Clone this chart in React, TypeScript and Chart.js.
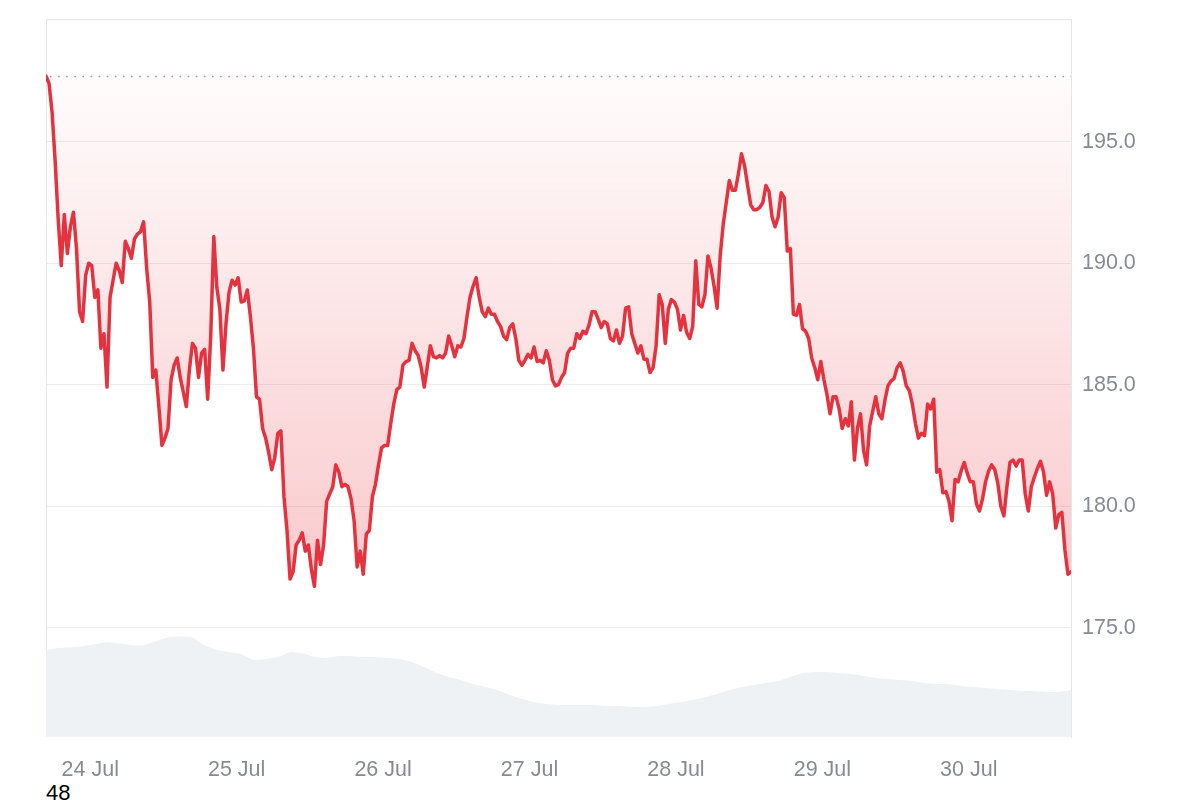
import React, { useEffect, useRef } from "react";
import { Chart, registerables } from "chart.js";

Chart.register(...registerables);

// Price, one value every 30 minutes, starting 23 Jul ~16:45
const PRICE_STEP_HOURS = 0.5;
const priceValues: number[] = [
  197.7, 197.4, 196.2, 194.2, 191.8, 189.9, 192.0, 190.4, 191.5, 192.1,
  190.6, 188.0, 187.6, 189.5, 190.0, 189.9, 188.6, 188.9, 186.5, 187.1,
  184.9, 188.6, 189.3, 190.0, 189.7, 189.2, 190.9, 190.6, 190.2, 191.0,
  191.2, 191.3, 191.7, 189.8, 188.4, 185.3, 185.6, 184.1, 182.5, 182.8,
  183.2, 185.2, 185.8, 186.1, 185.3, 184.7, 184.1, 185.6, 186.7, 186.5,
  185.3, 186.3, 186.45, 184.4, 187.0, 191.1, 189.0, 188.1, 185.6, 187.5,
  188.8, 189.3, 189.1, 189.4, 188.4, 188.45, 188.9, 187.8, 186.5, 184.5,
  184.4, 183.2, 182.8, 182.2, 181.5, 182.0, 183.0, 183.1, 180.4, 179.0,
  177.0, 177.3, 178.4, 178.6, 178.9, 178.15, 178.4, 177.4, 176.7, 178.6,
  177.6, 178.4, 180.2, 180.5, 180.8, 181.7, 181.4, 180.8, 180.9, 180.8,
  180.3, 179.4, 177.5, 178.15, 177.2, 178.85, 179.0, 180.4, 180.9, 181.7,
  182.4, 182.5, 182.5, 183.4, 184.2, 184.8, 184.9, 185.8, 185.95, 186.0,
  186.7, 186.4, 186.2, 185.7, 184.9, 185.75, 186.6, 186.15, 186.1, 186.2,
  186.1, 186.3, 187.0, 186.6, 186.15, 186.6, 186.55, 186.9, 187.8, 188.6,
  189.05, 189.4, 188.6, 188.0, 187.8, 188.15, 187.9, 187.9, 187.6, 187.4,
  187.0, 186.85, 187.35, 187.5, 186.9, 186.0, 185.8, 186.0, 186.25, 186.1,
  186.55, 185.95, 186.0, 185.9, 186.4, 186.0, 185.2, 184.95, 185.0, 185.3,
  185.5, 186.3, 186.5, 186.5, 187.1, 186.9, 187.2, 187.1, 187.45, 188.0,
  188.0, 187.7, 187.35, 187.6, 187.5, 186.9, 186.8, 187.25, 186.7, 187.0,
  188.15, 188.2, 187.1, 186.7, 186.3, 186.6, 186.05, 186.05, 185.5, 185.7,
  186.6, 188.7, 188.3, 186.7, 188.1, 188.5, 188.4, 188.1, 187.25, 187.85,
  187.15, 186.9, 187.4, 190.1, 188.3, 188.2, 188.7, 190.3, 189.8, 189.05,
  188.15, 190.3, 191.6, 192.5, 193.4, 193.0, 193.0, 193.7, 194.5, 194.0,
  193.2, 192.4, 192.2, 192.2, 192.3, 192.5, 193.2, 192.95, 191.9, 191.5,
  191.9, 192.9, 192.7, 190.5, 190.6, 187.9, 187.85, 188.3, 187.3, 187.2,
  186.9, 186.1, 185.7, 185.2, 185.95, 185.2, 184.6, 183.8, 184.5, 184.5,
  184.0, 183.2, 183.6, 183.3, 184.3, 181.9, 183.2, 183.8, 182.3, 181.7,
  183.3, 183.9, 184.5, 183.8, 183.6, 184.35, 184.95, 185.15, 185.25, 185.7,
  185.9, 185.55, 184.95, 184.75, 184.2, 183.4, 182.8, 183.0, 182.9, 184.2,
  184.0, 184.4, 181.4, 181.5, 180.55, 180.6, 180.2, 179.4, 181.1, 181.0,
  181.45, 181.8, 181.35, 181.0, 181.0, 180.1, 179.8, 180.3, 181.0, 181.45,
  181.7, 181.5, 180.95, 180.0, 179.6, 180.8, 181.8, 181.9, 181.65, 181.9,
  181.9, 180.5, 179.8, 180.8, 181.2, 181.55, 181.85, 181.4, 180.45, 181.0,
  180.5, 179.1, 179.65, 179.75, 178.2, 177.2, 177.3,
];

// Volume (relative units), one value every 2 hours
const VOLUME_STEP_HOURS = 2;
const volumeValues: number[] = [
  8.7, 8.9, 9.0, 9.1, 9.3, 9.5, 9.4, 9.2, 9.2, 9.6,
  10.0, 10.1, 10.0, 9.2, 8.7, 8.5, 8.3, 7.7, 7.8, 8.0,
  8.5, 8.4, 8.0, 7.9, 8.1, 8.1, 8.0, 8.0, 7.9, 7.8,
  7.5, 7.0, 6.4, 6.0, 5.7, 5.3, 5.0, 4.7, 4.2, 3.8,
  3.5, 3.3, 3.2, 3.2, 3.2, 3.2, 3.1, 3.1, 3.0, 3.0,
  3.1, 3.3, 3.5, 3.7, 4.0, 4.3, 4.7, 5.0, 5.2, 5.4,
  5.6, 6.0, 6.4, 6.5, 6.5, 6.4, 6.3, 6.1, 5.9, 5.8,
  5.7, 5.6, 5.4, 5.3, 5.3, 5.1, 5.0, 4.9, 4.8, 4.7,
  4.6, 4.6, 4.5, 4.5, 4.7,
];

const dayLabels: string[] = ["24 Jul", "25 Jul", "26 Jul", "27 Jul", "28 Jul", "29 Jul", "30 Jul"];
const FIRST_MIDNIGHT_HOURS = 7.25; // hours from series start to 24 Jul 00:00
const yTickValues: number[] = [175, 180, 185, 190, 195];

const Y_MIN = 170.5;
const Y_MAX = 200.05;
const VOLUME_AXIS_MAX = 71.9;

const FONT = "'Liberation Sans', Arial, Helvetica, sans-serif";
const LABEL_COLOR = "#858a96";
const GRID_COLOR = "#ededed";
const BORDER_COLOR = "#e6e6e6";
const LINE_COLOR = "#e4333f";

export default function App() {
  const canvasRef = useRef<HTMLCanvasElement | null>(null);

  useEffect(() => {
    if (!canvasRef.current) return;
    const base = priceValues[0];
    const lowest = Math.min(...priceValues);
    const totalHours = (priceValues.length - 1) * PRICE_STEP_HOURS;

    const priceData = priceValues.map((v, i) => ({ x: i * PRICE_STEP_HOURS, y: v }));
    const volumeData = volumeValues.map((v, i) => ({ x: i * VOLUME_STEP_HOURS, y: v }));
    const dayTickValues = dayLabels.map((_, i) => FIRST_MIDNIGHT_HOURS + i * 24);

    const framePlugin = {
      id: "frame",
      beforeDatasetsDraw(chart: any) {
        const { ctx, chartArea } = chart;
        ctx.save();
        ctx.strokeStyle = BORDER_COLOR;
        ctx.lineWidth = 1;
        ctx.beginPath();
        ctx.moveTo(chartArea.left + 0.5, chartArea.bottom);
        ctx.lineTo(chartArea.left + 0.5, chartArea.top + 0.5);
        ctx.lineTo(chartArea.right, chartArea.top + 0.5);
        ctx.stroke();
        ctx.restore();
      },
      afterDatasetsDraw(chart: any) {
        const { ctx, chartArea, scales } = chart;
        const y = Math.round(scales.y.getPixelForValue(base)) + 0.5;
        ctx.save();
        ctx.strokeStyle = "#9a9ca6";
        ctx.lineWidth = 1.6;
        ctx.setLineDash([1.6, 6.5]);
        ctx.beginPath();
        ctx.moveTo(chartArea.left + 4, y);
        ctx.lineTo(chartArea.right, y);
        ctx.stroke();
        ctx.restore();
      },
    };

    const chart = new Chart(canvasRef.current, {
      type: "line",
      data: {
        datasets: [
          {
            label: "Price",
            data: priceData,
            yAxisID: "y",
            xAxisID: "x",
            borderColor: LINE_COLOR,
            borderWidth: 3.5,
            pointRadius: 0,
            tension: 0,
            borderJoinStyle: "round",
            borderCapStyle: "round",
            order: 1,
            fill: { value: base },
            backgroundColor: (c: any) => {
              const ch = c.chart;
              const { chartArea, scales } = ch;
              if (!chartArea || !scales.y) return "rgba(234,57,67,0.1)";
              const y0 = scales.y.getPixelForValue(base);
              const y1 = scales.y.getPixelForValue(lowest);
              const g = ch.ctx.createLinearGradient(0, y0, 0, y1);
              g.addColorStop(0, "rgba(234,57,67,0.015)");
              g.addColorStop(1, "rgba(234,57,67,0.27)");
              return g;
            },
          } as any,
          {
            label: "Volume",
            data: volumeData,
            yAxisID: "v",
            xAxisID: "x",
            borderWidth: 0,
            borderColor: "rgba(0,0,0,0)",
            backgroundColor: "#eff2f5",
            pointRadius: 0,
            tension: 0,
            fill: "origin",
            order: 2,
          } as any,
        ],
      },
      options: {
        animation: false,
        responsive: true,
        maintainAspectRatio: false,
        events: [],
        layout: { padding: { left: 38, top: 11, right: 0, bottom: 0 } },
        plugins: {
          legend: { display: false },
          tooltip: { enabled: false },
        },
        scales: {
          x: {
            type: "linear",
            min: 0,
            max: totalHours,
            grid: { display: false, drawTicks: false },
            border: { display: false },
            afterBuildTicks: (scale: any) => {
              scale.ticks = dayTickValues.map((v) => ({ value: v }));
            },
            afterFit: (scale: any) => {
              scale.height = 41;
              scale.paddingLeft = 0;
              scale.paddingRight = 0;
            },
            ticks: {
              autoSkip: false,
              maxRotation: 0,
              padding: 20,
              color: LABEL_COLOR,
              font: { family: FONT, size: 21.5 },
              callback: (_v: any, i: number) => dayLabels[i],
            },
          },
          y: {
            type: "linear",
            position: "right",
            min: Y_MIN,
            max: Y_MAX,
            grid: { color: GRID_COLOR, drawTicks: false, lineWidth: 1 },
            border: { display: true, color: BORDER_COLOR },
            afterBuildTicks: (scale: any) => {
              scale.ticks = yTickValues.map((v) => ({ value: v }));
            },
            afterFit: (scale: any) => {
              scale.width = 121;
              scale.paddingTop = 0;
              scale.paddingBottom = 0;
            },
            ticks: {
              padding: 11,
              color: LABEL_COLOR,
              font: { family: FONT, size: 21.5 },
              callback: (v: any) => Number(v).toFixed(1),
            },
          },
          v: {
            type: "linear",
            display: false,
            min: 0,
            max: VOLUME_AXIS_MAX,
          },
        },
      } as any,
      plugins: [framePlugin],
    });

    return () => chart.destroy();
  }, []);

  return (
    <div>
      <div style={{ position: "relative", height: 770 }}>
        <canvas ref={canvasRef} />
      </div>
      <div style={{ fontFamily: FONT, fontSize: 22, marginLeft: 38, marginTop: 2, color: "#000" }}>48</div>
    </div>
  );
}
